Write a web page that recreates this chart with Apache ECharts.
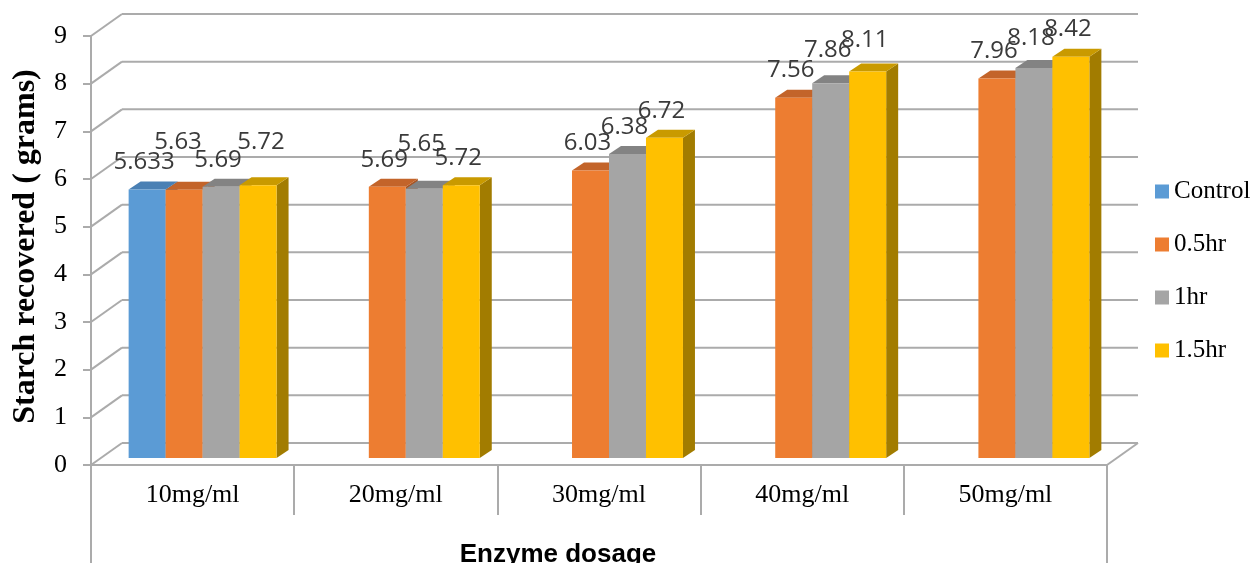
<!DOCTYPE html>
<html>
<head>
<meta charset="utf-8">
<script src="https://cdn.jsdelivr.net/npm/echarts@6/dist/echarts.min.js"></script>
<style>
html, body { margin: 0; padding: 0; background: #fff; }
#main { width: 1255px; height: 563px; }
</style>
</head>
<body>
<div id="main"></div>
<script>
var dosages = ['10mg/ml', '20mg/ml', '30mg/ml', '40mg/ml', '50mg/ml'];
var seriesNames = ['Control', '0.5hr', '1hr', '1.5hr'];
var control = [5.633, null, null, null, null];
var hr05 = [5.63, 5.69, 6.03, 7.56, 7.96];
var hr1 = [5.69, 5.65, 6.38, 7.86, 8.18];
var hr15 = [5.72, 5.72, 6.72, 8.11, 8.42];
var yTicks = [0, 1, 2, 3, 4, 5, 6, 7, 8, 9];

var allValues = [control, hr05, hr1, hr15];

// look of the fake 3d
var COLORS = [
    {front: '#5B9BD5', top: '#4A80B4', side: '#3F6E9C'},
    {front: '#ED7D31', top: '#C3642A', side: '#A85422'},
    {front: '#A5A5A5', top: '#838383', side: '#707070'},
    {front: '#FFC000', top: '#C99A00', side: '#A27C00'}
];
var GRID_COLOR = '#ABABAB';
var WALL_DX = 31, WALL_DY = 22;     // depth of the back wall
var BAR_SHIFT_X = 10, BAR_SHIFT_Y = 7; // bars sit a bit back from the front floor edge
var BAR_DX = 12, BAR_DY = 8;        // bar depth
var BAR_FRAC = 0.182;               // bar width / category width
var LABEL_LIFT = 27;
// label nudges Excel used to dodge overlaps: "series,category": [dx, extra lift]
var labelNudge = {
    '1,0': [-3, 20], '3,0': [6, 16], '2,1': [0, 18],
    '2,3': [0, 6], '3,3': [0, 4], '2,4': [0, 3]
};
var SERIF = '"Liberation Serif", "Times New Roman", serif';

var chart = echarts.init(document.getElementById('main'));

function $each(arr, fn) { for (var i = 0; i < arr.length; i++) fn(arr[i], i); }

function seg(x1, y1, x2, y2) {
    return {
        type: 'line',
        shape: {x1: x1, y1: y1, x2: x2, y2: y2},
        style: {stroke: GRID_COLOR, lineWidth: 2}
    };
}

function renderWall(params, api) {
    var cs = params.coordSys;
    var v = api.value(1);
    var y = api.coord([0, v])[1];
    var L = cs.x, R = cs.x + cs.width;
    var kids = [
        seg(L, y, L + WALL_DX, y - WALL_DY),
        seg(L + WALL_DX, y - WALL_DY, R + WALL_DX, y - WALL_DY)
    ];
    if (v === 0) {
        kids.push(seg(R, y, R + WALL_DX, y - WALL_DY));
        kids.push(seg(L, y, L, api.getHeight()));
        kids.push(seg(R, y, R, api.getHeight()));
    }
    return {type: 'group', children: kids};
}

function barGeom(api, idx, cat, v) {
    var bw = api.size([1, 0])[0] * BAR_FRAC;
    var base = api.coord([cat, 0]);
    var top = api.coord([cat, v]);
    var x0 = base[0] + (idx - 2) * bw + BAR_SHIFT_X;
    return {x0: x0, bw: bw, yb: base[1] - BAR_SHIFT_Y, yt: top[1] - BAR_SHIFT_Y};
}

function makeBarSeries(idx) {
    var c = COLORS[idx];
    var data = [];
    $each(allValues[idx], function (v, i) { if (v != null) data.push([i, v]); });
    return {
        name: seriesNames[idx],
        type: 'custom',
        z: 3,
        silent: true,
        itemStyle: {color: c.front},
        encode: {x: 0, y: 1},
        data: data,
        renderItem: function (params, api) {
            var g = barGeom(api, idx, api.value(0), api.value(1));
            var x0 = g.x0, x1 = g.x0 + g.bw, yt = g.yt, yb = g.yb;
            return {type: 'group', children: [
                {type: 'polygon', shape: {points: [[x1, yt], [x1 + BAR_DX, yt - BAR_DY], [x1 + BAR_DX, yb - BAR_DY], [x1, yb]]},
                    style: {fill: c.side}},
                {type: 'polygon', shape: {points: [[x0, yt], [x0 + BAR_DX, yt - BAR_DY], [x1 + BAR_DX, yt - BAR_DY], [x1, yt]]},
                    style: {fill: c.top}},
                {type: 'rect', shape: {x: x0, y: yt, width: g.bw, height: yb - yt}, style: {fill: c.front}}
            ]};
        }
    };
}

var labelData = [];
$each(allValues, function (vals, s) {
    $each(vals, function (v, i) { if (v != null) labelData.push([i, v, s]); });
});

var series = [{
    name: 'wall',
    type: 'custom',
    z: 1,
    silent: true,
    encode: {x: 0, y: 1},
    data: yTicks.map(function (v) { return [0, v]; }),
    renderItem: renderWall
}];
$each(seriesNames, function (n, i) { series.push(makeBarSeries(i)); });
series.push({
    name: 'labels',
    type: 'custom',
    z: 5,
    silent: true,
    encode: {x: 0, y: 1},
    data: labelData,
    renderItem: function (params, api) {
        var cat = api.value(0), v = api.value(1), s = api.value(2);
        var g = barGeom(api, s, cat, v);
        var nudge = labelNudge[s + ',' + cat] || [0, 0];
        return {
            type: 'text',
            style: {
                x: g.x0 + g.bw / 2 - 3 + nudge[0],
                y: g.yt - LABEL_LIFT - nudge[1],
                text: String(v),
                align: 'center',
                verticalAlign: 'middle',
                font: '24px "Open Sans", sans-serif',
                fill: '#3a3a3a'
            }
        };
    }
});

chart.setOption({
    animation: false,
    backgroundColor: '#fff',
    grid: {left: 91, right: 148, top: 36, bottom: 98, containLabel: false, outerBoundsMode: 'none'},
    legend: {
        data: seriesNames,
        orient: 'vertical',
        left: 1150,
        top: 174,
        itemWidth: 14,
        itemHeight: 14,
        itemGap: 28,
        icon: 'rect',
        textStyle: {fontFamily: SERIF, fontSize: 25, lineHeight: 25, color: '#000'}
    },
    xAxis: {
        type: 'category',
        data: dosages,
        name: 'Enzyme dosage',
        nameLocation: 'middle',
        nameGap: 77,
        nameTextStyle: {fontFamily: '"Liberation Sans", Arial, sans-serif', fontWeight: 'bold', fontSize: 26, color: '#000', padding: [0, 82, 0, 0]},
        axisLine: {show: true, lineStyle: {color: GRID_COLOR, width: 2}},
        axisTick: {show: true, length: 50, alignWithLabel: false, interval: 0, lineStyle: {color: GRID_COLOR, width: 2}},
        axisLabel: {margin: 17, fontFamily: SERIF, fontSize: 26, color: '#000'}
    },
    yAxis: {
        type: 'value',
        min: 0,
        max: 9,
        interval: 1,
        name: 'Starch recovered ( grams)',
        nameLocation: 'middle',
        nameGap: 49,
        nameRotate: 90,
        nameTextStyle: {fontFamily: SERIF, fontWeight: 'bold', fontSize: 32, color: '#000', padding: [0, 0, 0, 8]},
        axisLine: {show: true, lineStyle: {color: GRID_COLOR, width: 2}},
        axisTick: {show: true, length: 8, lineStyle: {color: GRID_COLOR, width: 2}},
        splitLine: {show: false},
        axisLabel: {margin: 24, fontFamily: SERIF, fontSize: 26, color: '#000'}
    },
    series: series
});
</script>
</body>
</html>
